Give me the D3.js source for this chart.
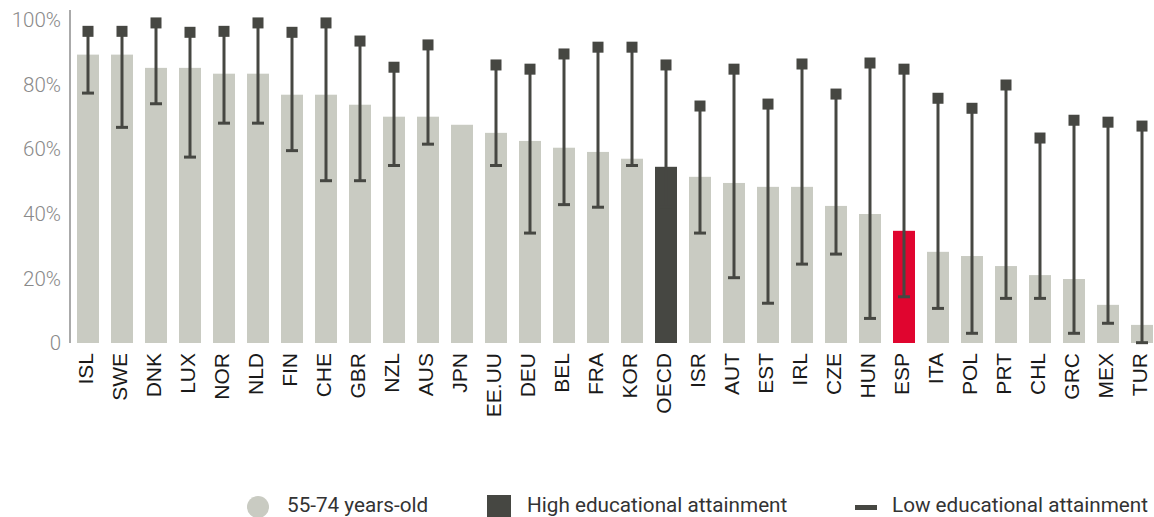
<!DOCTYPE html>
<html>
<head>
<meta charset="utf-8">
<script src="https://cdn.jsdelivr.net/npm/d3@7"></script>
<style>
  html, body { margin: 0; padding: 0; background: #fff; }
  svg { display: block; }
</style>
</head>
<body>
<svg id="chart" width="1154" height="517"></svg>
<script>
const categories = ["ISL","SWE","DNK","LUX","NOR","NLD","FIN","CHE","GBR","NZL","AUS","JPN","EE.UU","DEU","BEL","FRA","KOR","OECD","ISR","AUT","EST","IRL","CZE","HUN","ESP","ITA","POL","PRT","CHL","GRC","MEX","TUR"];
const olderAdults = [89.2,89.2,85.1,85.1,83.3,83.3,76.8,76.8,73.7,70,70,67.5,65,62.5,60.4,59.1,57,54.5,51.4,49.5,48.3,48.3,42.4,39.9,34.7,28.2,26.9,23.8,21,19.8,11.8,5.6];
const highEducation = [96.4,96.4,99,96.1,96.4,99,96.1,99,93.4,85.3,92.2,null,86,84.7,89.4,91.5,91.5,86,73.3,84.7,73.9,86.3,77,86.6,84.7,75.7,72.6,79.8,63.4,68.9,68.3,67.1];
const lowEducation = [77.3,66.7,74,57.5,68,68,59.5,50.2,50.2,54.9,61.5,null,54.9,34,42.8,42,54.9,42,34,20.2,12.3,24.4,27.5,7.6,14.3,10.7,3,13.8,13.8,3,6.1,0.1];
const yTicks = [0,20,40,60,80,100];
const legendLabels = ["55-74 years-old","High educational attainment","Low educational attainment"];

const GRAY = "#c9cbc2", DARK = "#464742", RED = "#e0052f";
const svg = d3.select("#chart");

const x = d3.scaleBand().domain(categories).range([71, 71 + 34 * categories.length])
  .paddingInner(12 / 34).paddingOuter(6 / 34);
const y = d3.scaleLinear().domain([0, 103]).range([343, 10]);

// y axis line
svg.append("line").attr("x1", 70).attr("x2", 70).attr("y1", y(103)).attr("y2", y(0))
  .attr("stroke", "#aaaaaa").attr("stroke-width", 2);

// y tick labels
svg.append("g").selectAll("text").data(yTicks).join("text")
  .attr("x", 61).attr("y", d => y(d)).attr("dy", "0.35em")
  .attr("text-anchor", "end")
  .attr("font-family", "Roboto, sans-serif").attr("font-weight", 300)
  .attr("font-size", 20.5).attr("fill", "#8a8a8a")
  .text(d => d === 0 ? "0" : d + "%");

// bars
svg.append("g").selectAll("rect").data(categories).join("rect")
  .attr("x", d => x(d)).attr("width", x.bandwidth())
  .attr("y", (d, i) => y(olderAdults[i]))
  .attr("height", (d, i) => y(0) - y(olderAdults[i]))
  .attr("fill", d => d === "OECD" ? DARK : d === "ESP" ? RED : GRAY);

// whiskers
const wdata = categories.map((c, i) => ({c, hi: highEducation[i], lo: lowEducation[i]})).filter(d => d.hi != null);
const wg = svg.append("g");
wg.selectAll("line.stem").data(wdata).join("line").attr("class", "stem")
  .attr("x1", d => x(d.c) + x.bandwidth() / 2).attr("x2", d => x(d.c) + x.bandwidth() / 2)
  .attr("y1", d => y(d.hi)).attr("y2", d => y(d.lo))
  .attr("stroke", DARK).attr("stroke-width", 3);
wg.selectAll("line.cap").data(wdata).join("line").attr("class", "cap")
  .attr("x1", d => x(d.c) + x.bandwidth() / 2 - 6).attr("x2", d => x(d.c) + x.bandwidth() / 2 + 6)
  .attr("y1", d => y(d.lo)).attr("y2", d => y(d.lo))
  .attr("stroke", DARK).attr("stroke-width", 3);
wg.selectAll("rect.sq").data(wdata).join("rect").attr("class", "sq")
  .attr("x", d => x(d.c) + x.bandwidth() / 2 - 5.5).attr("y", d => y(d.hi) - 5.5)
  .attr("width", 11).attr("height", 11).attr("fill", DARK);

// x labels
svg.append("g").selectAll("text").data(categories).join("text")
  .attr("transform", d => `translate(${x(d) + x.bandwidth() / 2 - 2},353) rotate(-90)`)
  .attr("dy", "0.35em").attr("text-anchor", "end")
  .attr("font-family", "'Liberation Sans', Arial, sans-serif")
  .attr("font-size", 21).attr("fill", "#1a1a1a")
  .text(d => d);

// legend
const lg = svg.append("g").attr("font-family", "Roboto, sans-serif").attr("font-size", 20.7).attr("fill", "#333");
lg.append("circle").attr("cx", 258).attr("cy", 507).attr("r", 11).attr("fill", GRAY);
lg.append("text").attr("x", 287).attr("y", 512).text(legendLabels[0]);
lg.append("rect").attr("x", 487).attr("y", 495).attr("width", 24).attr("height", 23).attr("fill", DARK);
lg.append("text").attr("x", 527).attr("y", 512).text(legendLabels[1]);
lg.append("rect").attr("x", 855).attr("y", 505).attr("width", 22).attr("height", 5).attr("fill", DARK);
lg.append("text").attr("x", 892).attr("y", 512).text(legendLabels[2]);
</script>
</body>
</html>
